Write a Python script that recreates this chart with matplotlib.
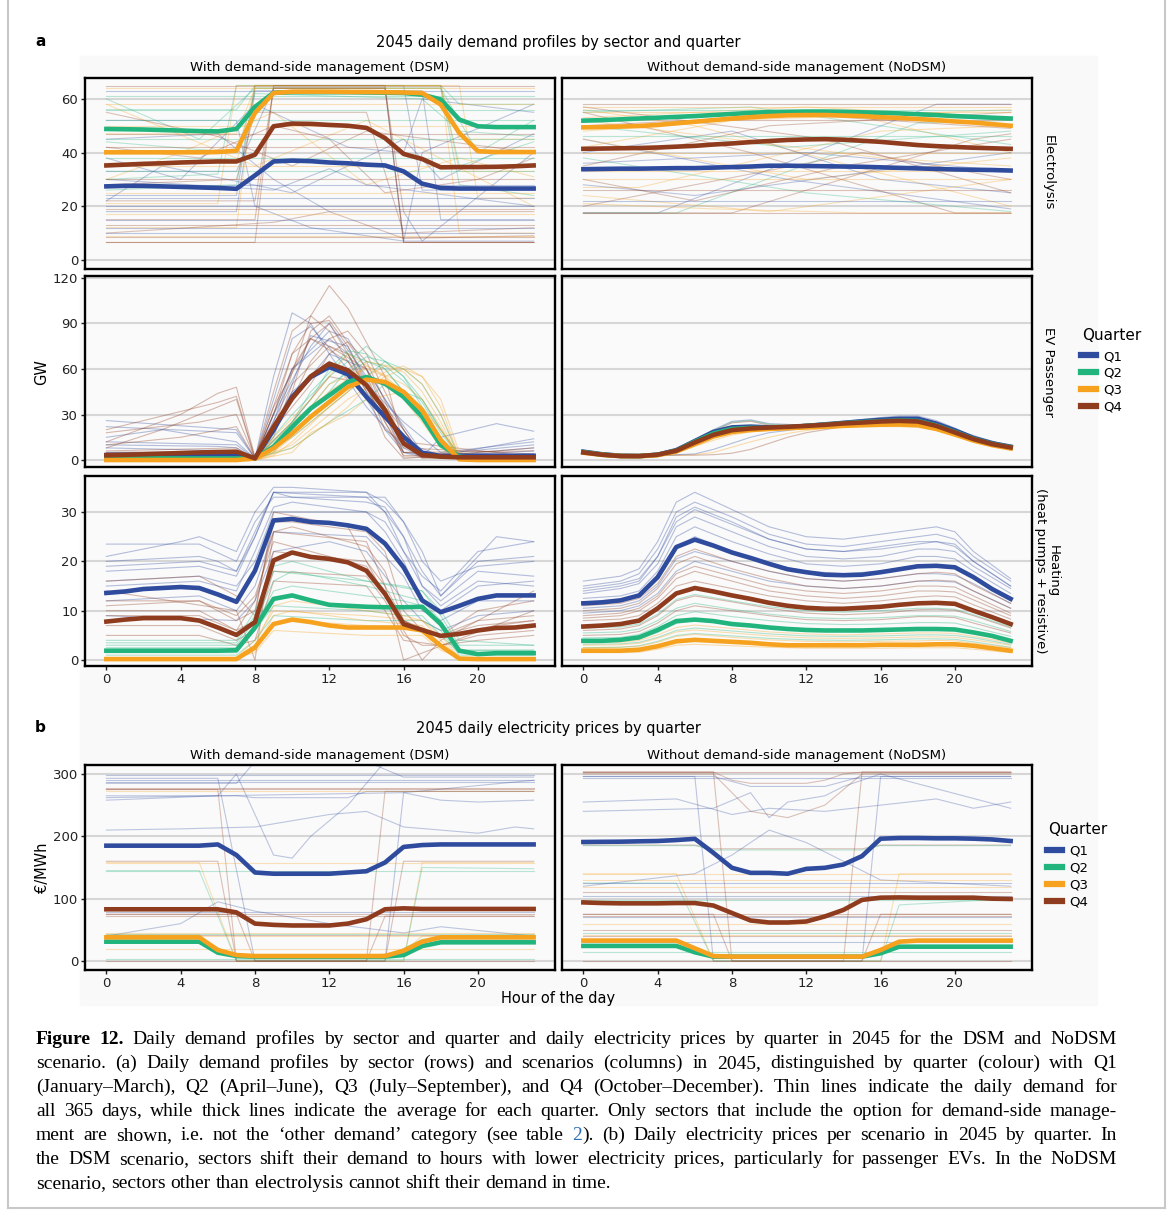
import matplotlib
matplotlib.use('Agg')
import matplotlib.pyplot as plt
from matplotlib.lines import Line2D

# ============ DATA ============
hours = list(range(24))
quarters = ['Q1', 'Q2', 'Q3', 'Q4']
q_colors = ['#2f4b9e', '#22b47d', '#f6a21e', '#8e3b1e']

# quarter averages (thick lines)
elec_dsm_mean = [
    [27.4, 27.6, 27.6, 27.4, 27.2, 27.0, 26.8, 26.5, 31.5, 36.7, 37.0, 36.8, 36.3, 36.0, 35.5, 35.2, 33.0, 28.4, 26.8, 26.6, 26.6, 26.6, 26.6, 26.6],
    [48.8, 48.7, 48.6, 48.4, 48.2, 48.0, 47.9, 48.8, 57.0, 62.3, 62.5, 62.5, 62.5, 62.5, 62.4, 62.3, 62.2, 61.6, 59.8, 52.3, 49.8, 49.5, 49.5, 49.5],
    [40.1, 40.1, 40.1, 40.1, 40.1, 40.1, 40.2, 40.7, 54.8, 62.2, 62.7, 62.7, 62.7, 62.6, 62.6, 62.5, 62.4, 62.2, 57.9, 47.3, 40.5, 40.2, 40.2, 40.2],
    [35.2, 35.5, 35.8, 36.0, 36.3, 36.5, 36.7, 36.7, 39.2, 49.8, 50.8, 50.7, 50.3, 50.0, 49.2, 45.4, 39.5, 37.6, 34.5, 34.6, 34.6, 34.7, 34.9, 35.2],
]
elec_nodsm_mean = [
    [33.8, 33.9, 34.0, 34.0, 34.1, 34.2, 34.2, 34.4, 34.6, 34.8, 35.1, 35.1, 35.0, 34.9, 34.8, 34.7, 34.5, 34.3, 34.1, 33.9, 33.7, 33.6, 33.5, 33.3],
    [51.9, 52.1, 52.4, 52.7, 53.0, 53.3, 53.6, 54.0, 54.4, 54.8, 55.1, 55.2, 55.3, 55.3, 55.2, 55.0, 54.8, 54.6, 54.3, 54.0, 53.6, 53.3, 53.0, 52.7],
    [49.4, 49.5, 49.7, 49.9, 50.3, 50.9, 51.5, 52.1, 52.7, 53.2, 53.6, 53.9, 54.0, 54.0, 53.8, 53.6, 53.2, 52.9, 52.5, 52.1, 51.6, 51.2, 50.6, 50.0],
    [41.4, 41.5, 41.6, 41.7, 41.9, 42.2, 42.5, 43.0, 43.4, 43.9, 44.3, 44.7, 44.9, 45.0, 44.8, 44.4, 44.0, 43.4, 42.8, 42.4, 42.1, 41.8, 41.6, 41.4],
]
ev_dsm_mean = [
    [3.3, 3.4, 3.5, 3.5, 3.6, 3.6, 3.7, 3.7, 1.1, 19.7, 41.6, 54.7, 61.3, 56.5, 41.6, 28.5, 15.3, 4.8, 2.6, 2.8, 2.8, 2.8, 2.8, 2.8],
    [1.1, 1.1, 1.1, 1.1, 1.1, 1.1, 1.1, 1.1, 1.1, 8.8, 21.9, 34.0, 42.7, 51.5, 54.7, 50.3, 41.6, 28.5, 9.9, 2.2, 1.1, 1.1, 1.1, 1.1],
    [0.0, 0.0, 0.0, 0.0, 0.0, 0.0, 0.0, 0.0, 1.0, 7.7, 17.5, 28.5, 38.3, 48.2, 53.0, 51.5, 44.9, 32.8, 13.1, 0.4, 0.0, 0.0, 0.0, 0.0],
    [3.1, 3.4, 3.8, 4.2, 4.6, 5.0, 5.3, 5.5, 1.1, 21.9, 40.5, 55.1, 63.5, 59.1, 49.3, 32.8, 10.9, 3.3, 2.2, 1.8, 1.8, 1.8, 1.8, 1.8],
]
ev_nodsm_mean = [
    [5.5, 3.8, 2.8, 2.6, 3.5, 6.5, 12.5, 18.5, 21.5, 22.0, 21.5, 21.5, 22.5, 23.5, 24.5, 25.5, 26.5, 27.2, 27.2, 24.0, 19.5, 14.5, 11.0, 8.8],
    [5.2, 3.6, 2.7, 2.6, 3.4, 6.2, 12.0, 17.5, 20.5, 21.2, 21.0, 21.5, 22.5, 23.3, 24.2, 25.0, 25.6, 26.0, 25.8, 22.8, 18.5, 14.0, 10.6, 8.5],
    [4.8, 3.4, 2.6, 2.5, 3.2, 5.6, 10.5, 15.5, 18.5, 19.8, 20.5, 21.0, 21.5, 22.0, 22.5, 23.0, 23.3, 23.4, 23.0, 20.5, 16.8, 12.8, 9.8, 7.6],
    [5.0, 3.5, 2.6, 2.6, 3.5, 6.1, 11.6, 16.6, 19.7, 20.8, 21.4, 21.9, 22.5, 23.2, 24.1, 24.7, 25.4, 25.8, 25.4, 22.5, 18.2, 13.8, 10.5, 8.3],
]
heat_dsm_mean = [
    [13.6, 13.9, 14.4, 14.6, 14.8, 14.6, 13.3, 11.8, 18.1, 28.3, 28.6, 28.0, 27.8, 27.3, 26.6, 23.6, 18.8, 12.1, 9.7, 11.0, 12.4, 13.1, 13.1, 13.1],
    [1.9, 1.9, 1.9, 1.9, 1.9, 1.9, 1.9, 2.0, 6.6, 12.4, 13.1, 12.1, 11.2, 11.0, 10.8, 10.7, 10.7, 10.8, 7.3, 1.9, 1.2, 1.4, 1.4, 1.4],
    [0.2, 0.2, 0.2, 0.2, 0.2, 0.2, 0.2, 0.2, 2.6, 7.3, 8.2, 7.7, 7.0, 6.6, 6.6, 6.6, 6.6, 6.0, 2.9, 0.3, 0.2, 0.2, 0.2, 0.2],
    [7.8, 8.2, 8.5, 8.5, 8.5, 8.0, 6.6, 5.1, 7.7, 20.2, 21.8, 20.9, 20.5, 19.8, 18.1, 13.4, 7.3, 6.1, 4.9, 5.3, 6.0, 6.5, 6.6, 7.0],
]
heat_nodsm_mean = [
    [11.5, 11.7, 12.1, 13.1, 16.8, 22.9, 24.4, 23.2, 21.8, 20.7, 19.5, 18.4, 17.8, 17.3, 17.2, 17.3, 17.8, 18.4, 19.0, 19.1, 18.8, 16.8, 14.4, 12.4],
    [3.9, 3.9, 4.1, 4.6, 6.1, 7.9, 8.2, 7.9, 7.3, 7.0, 6.6, 6.3, 6.1, 6.0, 6.0, 6.0, 6.1, 6.2, 6.3, 6.3, 6.2, 5.6, 4.9, 3.9],
    [1.9, 1.9, 1.9, 2.1, 2.8, 3.8, 4.1, 3.9, 3.7, 3.5, 3.2, 3.0, 3.0, 3.0, 3.0, 3.0, 3.1, 3.1, 3.1, 3.2, 3.2, 2.9, 2.4, 1.9],
    [6.8, 7.0, 7.3, 8.0, 10.5, 13.5, 14.6, 13.9, 13.1, 12.4, 11.6, 11.0, 10.6, 10.4, 10.4, 10.6, 10.8, 11.2, 11.5, 11.6, 11.4, 10.0, 8.7, 7.3],
]
price_dsm_mean = [
    [185, 185, 185, 185, 185, 185, 187, 170, 142, 140, 140, 140, 140, 142, 144, 158, 183, 186, 187, 187, 187, 187, 187, 187],
    [31, 31, 31, 31, 31, 31, 13.4, 8, 7, 7, 7, 7, 7, 7, 7, 7, 9.6, 24, 30, 30, 30, 30, 30, 30],
    [38, 38, 38, 38, 38, 38, 17.6, 9.6, 8, 8, 8, 8, 8, 8, 8, 8, 16.6, 31, 38, 38, 38, 38, 38, 38],
    [83, 83, 83, 83, 83, 83, 83, 78, 60, 58, 57, 57, 57, 60, 67, 83, 84.5, 83.5, 83.5, 83.5, 83.5, 83.5, 83.5, 83.5],
]
price_nodsm_mean = [
    [190.9, 191.2, 191.4, 192, 192.5, 194, 196, 173.5, 149.5, 141.4, 141.4, 140, 147.8, 149.5, 154.8, 168.3, 196.2, 197.3, 197.3, 196.8, 196.8, 196.2, 195, 192.5],
    [24.2, 24.2, 24.2, 24.2, 24.2, 24.2, 14, 7, 7, 7, 7, 7, 7, 7, 7, 7, 12.4, 23, 23, 23, 23, 23, 23, 23],
    [32.8, 32.8, 32.8, 32.8, 32.8, 32.8, 20.4, 8, 7, 7, 7, 7, 7, 7, 7, 7, 17.7, 31, 32.8, 32.8, 32.8, 32.8, 32.8, 32.8],
    [94, 93, 92.5, 92.5, 92.5, 93, 93, 89, 77, 65, 61.8, 61.8, 63.4, 71.5, 82, 98, 101.6, 102, 101.6, 101.6, 101.6, 101.6, 100, 99.5],
]

# a sample of individual days (thin lines): (quarter, hours, values)
elec_dsm_days = [
    (0, [0, 7, 8, 16, 17, 23], [24, 24, 65, 65, 26, 26]),
    (0, [0, 7, 9, 15, 16, 23], [33, 33, 64, 64, 7, 7]),
    (0, [0, 6, 9, 12, 16, 17, 23], [45, 47, 30, 18, 18, 7, 40]),
    (0, [0, 4, 8, 13, 16, 17, 23], [38, 30, 58, 42, 40, 60, 55]),
    (0, [0, 7, 8, 17, 18, 23], [18, 18, 63, 63, 15, 15]),
    (0, [0, 3, 10, 16, 18, 23], [22, 35, 25, 45, 30, 47]),
    (0, [0, 7, 8, 11, 16, 17, 23], [52, 52, 20, 12, 7, 40, 58]),
    (0, [0, 9, 12, 14, 23], [30, 26, 34, 28, 20]),
    (1, [0, 7, 8, 18, 19, 23], [56, 56, 65, 65, 58, 58]),
    (1, [0, 6, 7, 18, 19, 23], [30, 32, 65, 65, 35, 44]),
    (1, [0, 5, 8, 18, 20, 23], [60, 45, 64, 64, 40, 52]),
    (1, [0, 7, 8, 17, 19, 23], [44, 40, 62, 60, 48, 46]),
    (1, [0, 7, 8, 18, 19, 23], [26, 28, 64, 64, 28, 24]),
    (2, [0, 7, 8, 18, 19, 23], [12, 12, 65, 65, 10, 10]),
    (2, [0, 6, 7, 19, 20, 23], [21, 21, 65, 65, 23, 23]),
    (2, [0, 7, 8, 18, 19, 23], [47, 47, 64, 64, 45, 45]),
    (2, [0, 4, 9, 14, 19, 23], [30, 40, 55, 28, 38, 31]),
    (2, [0, 8, 14, 23], [58, 35, 52, 20]),
    (2, [0, 7, 8, 18, 19, 23], [36, 36, 65, 65, 33, 33]),
    (3, [0, 8, 9, 15, 16, 23], [6.5, 6.5, 65, 65, 6.5, 6.5]),
    (3, [0, 8, 9, 15, 16, 23], [15, 15, 64, 64, 18, 18]),
    (3, [0, 7, 8, 14, 16, 23], [28, 30, 55, 55, 10, 12]),
    (3, [0, 5, 9, 12, 15, 20, 23], [42, 38, 50, 45, 25, 30, 38]),
    (3, [0, 9, 12, 16, 23], [10, 14, 18, 8, 9]),
    (3, [0, 6, 10, 14, 23], [55, 46, 35, 48, 40]),
    (3, [0, 8, 9, 15, 16, 23], [22, 22, 64, 64, 6.5, 6.5]),
]
elec_dsm_flat = [(0, 63), (0, 20), (0, 12), (0, 23), (0, 15), (0, 28), (0, 10),
                 (1, 61), (1, 52), (1, 45), (1, 33), (1, 38), (1, 56),
                 (2, 64), (2, 58), (2, 17), (2, 9), (2, 25), (2, 35), (2, 50),
                 (3, 65), (3, 6.5), (3, 13), (3, 30), (3, 42), (3, 19), (3, 47), (3, 8.5)]

elec_nodsm_days = [
    (0, [0, 4, 19, 23], [17.5, 17.5, 58, 58]),
    (1, [0, 5, 18, 23], [17.5, 17.5, 51, 52]),
    (3, [0, 8, 21, 23], [17.5, 17.5, 45, 47]),
    (2, [0, 6, 23], [56, 50, 20]),
    (0, [0, 11, 23], [45, 30, 19]),
    (3, [0, 9, 20, 23], [55, 40, 17.5, 17.5]),
    (1, [0, 12, 23], [38, 25, 18]),
    (2, [0, 3, 16, 23], [27, 27, 48, 50]),
    (2, [0, 14, 23], [48, 55, 40]),
    (3, [0, 6, 14, 23], [30, 22, 35, 45]),
    (0, [0, 8, 16, 23], [40, 48, 30, 25]),
    (2, [0, 10, 23], [24, 18, 30]),
    (2, [0, 12, 23], [53, 57, 53]),
    (3, [0, 12, 23], [50, 54, 49]),
    (0, [0, 12, 23], [36, 40, 33]),
    (2, [0, 7, 15, 23], [21, 19, 17.5, 17.5]),
    (3, [0, 10, 23], [35, 50, 55]),
    (2, [0, 12, 23], [45, 30, 38]),
    (1, [0, 9, 23], [55, 57, 43]),
    (3, [0, 15, 23], [20, 40, 30]),
    (2, [0, 8, 23], [42, 52, 56]),
    (3, [0, 13, 23], [57, 45, 25]),
    (0, [0, 6, 23], [28, 24, 40]),
    (2, [0, 16, 23], [52, 38, 35]),
    (1, [0, 11, 23], [50, 42, 48]),
]
elec_nodsm_flat = [(3, 58), (3, 17.5), (2, 57), (1, 56), (1, 46), (2, 33), (3, 26), (2, 40),
                   (2, 55), (3, 52), (0, 22), (2, 30)]

ev_dsm_days = [
    (0, [0, 7, 8, 9, 10, 11, 12, 14, 16, 17, 18, 21, 23], [22, 18, 1, 55, 97, 90, 70, 35, 8, 2, 15, 24, 19]),
    (0, [0, 6, 7, 8, 10, 12, 13, 15, 17, 18, 23], [10, 9, 8, 1, 60, 85, 80, 40, 5, 3, 8]),
    (0, [0, 7, 8, 9, 11, 12, 14, 15, 16, 18, 23], [5, 5, 1, 30, 75, 90, 55, 30, 5, 2, 4]),
    (0, [0, 3, 7, 8, 10, 12, 14, 16, 17, 23], [15, 20, 12, 1, 40, 70, 60, 20, 3, 10]),
    (0, [0, 7, 8, 10, 11, 13, 15, 17, 18, 23], [3, 3, 2, 50, 82, 75, 30, 4, 2, 3]),
    (0, [0, 7, 8, 9, 10, 12, 14, 16, 18, 23], [26, 20, 1, 20, 45, 65, 50, 25, 5, 12]),
    (0, [0, 7, 8, 9, 10, 11, 13, 15, 16, 17, 23], [8, 6, 1, 40, 80, 88, 60, 20, 5, 2, 6]),
    (0, [0, 7, 8, 9, 10, 12, 13, 14, 16, 18, 23], [12, 10, 1, 25, 60, 80, 70, 45, 12, 3, 14]),
    (3, [0, 4, 6, 7, 8, 9, 11, 12, 13, 15, 16, 17, 23], [12, 30, 44, 48, 2, 20, 95, 115, 100, 55, 10, 1, 2]),
    (3, [0, 3, 6, 7, 8, 10, 11, 12, 14, 15, 16, 23], [8, 20, 35, 40, 1, 45, 85, 95, 60, 30, 2, 2]),
    (3, [0, 5, 7, 8, 10, 12, 14, 15, 17, 23], [18, 25, 30, 1, 70, 90, 50, 20, 2, 2]),
    (3, [0, 7, 8, 9, 11, 13, 15, 16, 23], [4, 5, 1, 35, 80, 70, 25, 3, 3]),
    (3, [0, 7, 8, 10, 12, 14, 16, 17, 23], [2, 2, 1, 25, 55, 50, 20, 2, 2]),
    (3, [0, 4, 7, 8, 10, 11, 13, 15, 16, 23], [10, 15, 22, 1, 60, 80, 65, 35, 5, 6]),
    (3, [0, 7, 8, 9, 10, 11, 12, 14, 15, 16, 23], [6, 8, 1, 45, 85, 95, 85, 45, 15, 1, 8]),
    (3, [0, 7, 8, 9, 10, 11, 12, 13, 14, 15, 16, 23], [5, 6, 1, 30, 70, 90, 92, 75, 50, 25, 5, 3]),
    (3, [0, 7, 8, 10, 11, 12, 13, 14, 15, 16, 17, 23], [3, 4, 1, 40, 65, 80, 85, 70, 45, 20, 2, 2]),
    (3, [0, 6, 7, 8, 9, 10, 12, 14, 15, 16, 23], [20, 38, 42, 1, 15, 50, 75, 60, 35, 8, 4]),
    (3, [0, 7, 8, 9, 11, 12, 13, 14, 16, 23], [2, 3, 1, 20, 50, 70, 78, 65, 12, 2]),
    (1, [0, 7, 8, 9, 11, 12, 13, 14, 15, 16, 17, 18, 19, 23], [2, 2, 1, 10, 40, 60, 72, 70, 60, 45, 30, 10, 2, 1]),
    (1, [0, 7, 8, 10, 12, 13, 15, 16, 17, 18, 19, 23], [1, 1, 1, 15, 35, 45, 65, 60, 50, 30, 2, 1]),
    (1, [0, 7, 8, 10, 12, 14, 16, 17, 18, 19, 23], [3, 3, 1, 30, 55, 75, 55, 35, 15, 2, 2]),
    (1, [0, 8, 10, 12, 14, 15, 17, 18, 19, 23], [1, 1, 8, 25, 40, 50, 40, 20, 3, 1]),
    (1, [0, 8, 9, 10, 12, 13, 14, 15, 16, 17, 18, 19, 23], [1, 1, 5, 20, 45, 60, 68, 65, 55, 40, 20, 3, 1]),
    (1, [0, 8, 9, 11, 12, 14, 15, 16, 17, 18, 19, 23], [2, 1, 12, 35, 50, 65, 62, 52, 38, 18, 2, 2]),
    (1, [0, 8, 10, 11, 13, 15, 16, 17, 18, 19, 23], [1, 1, 25, 45, 70, 60, 45, 30, 12, 1, 1]),
    (2, [0, 8, 9, 11, 13, 14, 16, 17, 18, 19, 23], [0, 0, 5, 25, 45, 65, 60, 50, 30, 1, 0]),
    (2, [0, 8, 10, 12, 14, 15, 17, 18, 19, 23], [0, 0, 20, 50, 60, 55, 35, 20, 2, 0]),
    (2, [0, 8, 10, 12, 13, 15, 16, 17, 18, 19, 23], [0, 0, 10, 30, 40, 55, 60, 55, 40, 5, 0]),
    (2, [0, 8, 9, 11, 13, 15, 17, 18, 19, 23], [0, 0, 15, 40, 70, 55, 25, 8, 0, 0]),
    (2, [0, 8, 10, 11, 13, 14, 16, 18, 19, 23], [0, 0, 5, 18, 30, 40, 45, 20, 1, 0]),
    (2, [0, 8, 10, 12, 13, 14, 15, 16, 17, 18, 19, 23], [0, 0, 8, 25, 35, 48, 58, 62, 55, 35, 2, 0]),
    (2, [0, 8, 9, 10, 12, 14, 15, 16, 17, 18, 19, 23], [0, 0, 3, 12, 35, 55, 62, 58, 45, 25, 1, 0]),
    (2, [0, 8, 10, 12, 14, 16, 17, 18, 19, 23], [0, 0, 25, 45, 62, 50, 40, 22, 1, 0]),
]

ev_nodsm_days = [
    (0, [0, 2, 4, 5, 6, 7, 8, 9, 10, 12, 14, 16, 17, 18, 19, 20, 21, 23], [6, 3, 3.6, 7, 13.5, 20, 25.5, 26.5, 24, 23, 25.5, 28, 29, 29, 26, 21, 15.5, 9.5]),
    (1, [0, 2, 4, 5, 6, 7, 8, 9, 10, 12, 14, 16, 17, 18, 19, 20, 21, 23], [5.5, 2.8, 3.5, 6.8, 13, 19.5, 25, 26, 23.5, 22.5, 24.5, 26.5, 27.5, 27.5, 24.5, 20, 15, 9]),
    (3, [0, 2, 4, 5, 6, 7, 8, 9, 10, 12, 14, 16, 17, 18, 19, 20, 21, 23], [5.5, 2.8, 3.5, 6.5, 12.5, 19, 24.5, 25.5, 23, 22.5, 24.5, 26.5, 27, 27, 24, 19.5, 14.5, 9]),
    (2, [0, 2, 4, 5, 6, 7, 8, 9, 10, 12, 14, 16, 17, 18, 19, 20, 21, 23], [4.5, 2.5, 3, 5, 9, 13, 16.5, 18.5, 19.5, 20.5, 21.5, 22, 22, 21.5, 19.5, 16, 12, 7]),
    (3, [0, 2, 4, 6, 7, 8, 9, 10, 11, 12, 14, 16, 18, 20, 23], [5, 2.6, 3, 3.2, 3.5, 4.5, 7, 11, 15, 18, 22, 24, 25, 18, 8]),
    (2, [0, 2, 4, 6, 7, 8, 9, 10, 11, 12, 14, 16, 18, 20, 23], [5, 2.6, 3, 3.5, 5, 8.5, 12, 15, 17.5, 19.5, 22, 23, 23, 17, 7.5]),
    (0, [0, 2, 4, 6, 7, 8, 9, 10, 12, 14, 16, 18, 20, 23], [5, 2.6, 3, 4, 7, 11, 15, 18, 21, 23.5, 26, 27, 20, 8.5]),
    (1, [0, 2, 4, 5, 6, 7, 8, 9, 10, 12, 14, 16, 17, 18, 19, 20, 21, 23], [5, 2.6, 3.3, 5.8, 11, 16, 19, 20.2, 20.8, 22, 23.5, 24.6, 25, 24.8, 22, 17.8, 13.5, 8.2]),
]

heat_dsm_days = [
    (0, [0, 5, 6, 7, 8, 9, 13, 14, 15, 16, 17, 18, 20, 23], [20, 21, 20, 18, 25, 34, 34, 34, 30, 25, 15, 12, 18, 17]),
    (0, [0, 4, 5, 7, 8, 9, 10, 14, 15, 16, 17, 18, 21, 23], [21, 24, 25, 22, 30, 35, 35, 34, 32, 28, 22, 13, 25, 24]),
    (0, [0, 5, 7, 8, 9, 14, 15, 16, 17, 18, 20, 23], [16, 17, 15, 20, 30, 30, 26, 20, 12, 10, 15, 16]),
    (0, [0, 5, 7, 8, 9, 14, 16, 17, 18, 20, 23], [12, 13, 10, 15, 26, 25, 17, 10, 8, 12, 12]),
    (0, [0, 5, 7, 8, 9, 10, 14, 15, 16, 17, 18, 20, 23], [18, 19, 17, 25, 34, 33, 32, 31, 25, 18, 13, 20, 21]),
    (0, [0, 7, 8, 9, 12, 14, 16, 17, 18, 20, 23], [9, 8, 12, 22, 24, 22, 12, 8, 6, 9, 10]),
    (0, [0, 5, 7, 8, 9, 14, 15, 16, 17, 18, 20, 23], [23.5, 23.5, 20, 28, 33, 33, 30, 22, 17, 14, 22, 24]),
    (0, [0, 5, 7, 8, 9, 10, 14, 15, 16, 17, 18, 20, 23], [15, 16, 14, 22, 31, 32, 30, 28, 22, 15, 11, 16, 15]),
    (0, [0, 5, 7, 8, 9, 14, 15, 16, 17, 18, 20, 23], [19, 20, 18, 26, 34, 33, 33, 28, 20, 16, 19, 20]),
    (3, [0, 5, 7, 8, 9, 10, 14, 15, 16, 17, 18, 20, 23], [12, 12, 8, 10, 28, 28, 26, 22, 10, 6, 5, 10, 12]),
    (3, [0, 5, 7, 8, 9, 14, 15, 16, 17, 18, 20, 23], [9, 9, 6, 8, 22, 20, 15, 8, 6, 5, 7, 8]),
    (3, [0, 5, 7, 8, 9, 14, 15, 16, 18, 20, 23], [5, 5, 3, 4, 16, 15, 10, 4, 3, 4, 5]),
    (3, [0, 7, 8, 9, 14, 15, 16, 23], [14, 10, 0, 26, 24, 15, 0, 10]),
    (3, [0, 5, 7, 8, 9, 11, 14, 16, 17, 18, 21, 23], [11, 12, 9, 13, 24, 22, 19, 8, 6, 5, 7, 8]),
    (3, [0, 5, 7, 8, 9, 13, 14, 16, 17, 18, 23], [16, 17, 13, 9, 30, 27, 20, 6, 0, 4, 14]),
    (3, [0, 5, 7, 8, 9, 14, 15, 16, 17, 18, 20, 23], [7, 7, 4, 6, 18, 17, 12, 5, 3, 3, 5, 6]),
    (3, [0, 5, 7, 8, 9, 10, 14, 15, 16, 18, 20, 23], [10, 10, 6, 12, 26, 27, 23, 18, 8, 5, 8, 9]),
    (1, [0, 7, 8, 9, 10, 14, 16, 17, 18, 19, 23], [3, 3, 8, 16, 18, 15, 13, 12, 8, 2, 2]),
    (1, [0, 7, 8, 9, 14, 16, 17, 18, 19, 23], [1.5, 1.5, 6, 11, 10, 9, 9, 5, 1.5, 1.5]),
    (1, [0, 7, 8, 9, 10, 14, 16, 17, 18, 19, 23], [4, 4, 10, 19, 20, 16, 15, 14, 10, 4, 3]),
    (1, [0, 7, 8, 9, 14, 17, 18, 19, 23], [1, 1, 4, 9, 8, 8, 6, 1, 1]),
    (1, [0, 7, 8, 9, 10, 14, 16, 17, 18, 19, 23], [2.5, 2.5, 7, 14, 15, 13, 12, 11, 7, 2, 2]),
    (1, [0, 7, 8, 9, 14, 17, 18, 19, 23], [3.5, 3.5, 9, 18, 16, 14, 9, 3, 3]),
    (2, [0, 7, 8, 9, 10, 14, 17, 18, 19, 23], [0, 0, 2, 9, 10, 8, 7, 3, 0, 0]),
    (2, [0, 7, 8, 9, 14, 17, 18, 19, 23], [0.5, 0.5, 1.5, 6, 5, 5, 2, 0.5, 0.5]),
    (2, [0, 7, 8, 9, 10, 16, 17, 18, 19, 23], [0.2, 0.2, 3, 11, 12, 9, 8, 5, 0.5, 0.2]),
    (2, [0, 7, 8, 9, 10, 16, 17, 18, 19, 23], [0.3, 0.3, 2, 7, 8, 6.5, 6, 3, 0.3, 0.3]),
    (2, [0, 7, 8, 9, 14, 17, 18, 19, 23], [0.5, 0.5, 4, 10, 9, 8, 4, 0.5, 0.5]),
]

heat_nodsm_hours = [0, 2, 3, 4, 5, 6, 8, 10, 12, 14, 16, 18, 19, 20, 21, 23]
heat_nodsm_days = [
    (0, [16, 17, 18.5, 24, 32, 34, 30.5, 27, 25, 24.5, 25.5, 26.5, 27, 26, 22, 16.5]),
    (0, [15, 16, 17.5, 22.5, 30, 32, 29, 25.5, 23.5, 23, 24, 25, 25.5, 24.5, 21, 16]),
    (0, [14, 15, 16, 21, 29, 31, 28, 24.5, 22.5, 22, 23, 24, 24, 23.5, 20, 15]),
    (0, [14.5, 15.5, 16.5, 21, 28, 30.5, 27.5, 24.5, 22.5, 22, 22.5, 23.5, 24, 23, 20, 15]),
    (0, [13.5, 14.5, 15.5, 19.5, 27, 29, 26, 23, 21, 20.5, 21, 22.5, 22.5, 22, 19, 14.5]),
    (0, [12.5, 13, 14, 18, 25, 27, 24, 21.5, 19.5, 19, 19.5, 21, 21, 20.5, 18, 13.5]),
    (0, [11.5, 12, 13, 16.5, 23, 25, 22, 19.5, 18, 17.5, 18, 19.3, 19.3, 19, 16.7, 12.5]),
    (0, [10.5, 11, 12, 15, 20.5, 22, 20, 18, 16.5, 16, 16.5, 17.5, 17.5, 17.2, 15.5, 11.5]),
    (0, [9.5, 10, 11, 13.5, 18, 20, 18, 16, 15, 14.5, 15, 16, 16, 15.8, 14, 10.5]),
    (3, [11, 11.5, 12.5, 15.5, 21, 22.5, 20, 18, 16.5, 16, 16.5, 17.5, 17.8, 17.5, 15.2, 11.5]),
    (3, [10, 10.5, 11.5, 14.5, 19.5, 21, 18.5, 16.5, 15, 14.5, 15, 16, 16.2, 16, 14, 10.5]),
    (3, [9, 9.5, 10.5, 13, 17.5, 19, 17, 15, 14, 13.5, 14, 15, 15, 14.8, 13, 9.5]),
    (3, [8.5, 9, 10, 12.5, 16.5, 18, 16, 14, 13, 12.5, 13, 14, 14, 13.8, 12.2, 9]),
    (3, [8, 8.3, 9, 11.5, 15, 16, 14.5, 13, 12, 11.5, 12, 12.8, 13, 12.8, 11.2, 8.3]),
    (3, [7, 7.3, 8, 10, 13.5, 14.5, 13, 11.5, 10.8, 10.5, 10.8, 11.5, 11.6, 11.4, 10, 7.2]),
    (3, [6, 6.3, 7, 9, 12, 13, 11.8, 10.5, 9.5, 9.2, 9.5, 10.2, 10.3, 10.1, 9, 6.5]),
    (3, [5, 5.2, 5.8, 7.5, 10, 11, 10, 9, 8.2, 8, 8.2, 8.8, 8.8, 8.6, 7.5, 5.5]),
    (1, [6.5, 6.7, 7.3, 9.3, 12.3, 13.3, 12, 10.8, 10, 9.7, 10, 10.5, 10.5, 10.3, 9.2, 6.7]),
    (1, [5.5, 5.7, 6.3, 8, 10.5, 11.5, 10.3, 9.3, 8.6, 8.4, 8.6, 9, 9, 8.9, 8, 5.8]),
    (1, [4.5, 4.6, 5.2, 6.8, 9, 9.8, 8.8, 8, 7.4, 7.2, 7.3, 7.6, 7.6, 7.5, 6.6, 4.8]),
    (1, [3.8, 3.9, 4.3, 5.6, 7.4, 8, 7.2, 6.5, 6, 5.9, 6, 6.2, 6.2, 6.1, 5.5, 3.9]),
    (1, [3.2, 3.3, 3.6, 4.6, 6, 6.5, 5.9, 5.3, 4.9, 4.8, 4.9, 5.1, 5.1, 5, 4.5, 3.2]),
    (1, [2.5, 2.6, 2.9, 3.8, 5, 5.4, 4.9, 4.4, 4.1, 4, 4.1, 4.3, 4.3, 4.2, 3.7, 2.6]),
    (2, [3.5, 3.6, 4, 5.1, 6.6, 7.1, 6.4, 5.7, 5.3, 5.1, 5.3, 5.5, 5.5, 5.4, 4.8, 3.5]),
    (2, [3, 3.1, 3.4, 4.4, 5.7, 6.1, 5.5, 4.9, 4.5, 4.4, 4.5, 4.7, 4.7, 4.6, 4.1, 3]),
    (2, [2.5, 2.6, 2.8, 3.6, 4.8, 5.2, 4.6, 4.1, 3.8, 3.7, 3.8, 3.9, 4, 3.9, 3.4, 2.5]),
    (2, [2, 2, 2.2, 2.9, 3.8, 4.1, 3.7, 3.3, 3.1, 3, 3.1, 3.2, 3.2, 3.1, 2.8, 2]),
    (2, [1.5, 1.5, 1.6, 2.2, 3, 3.2, 2.9, 2.6, 2.4, 2.4, 2.4, 2.5, 2.5, 2.5, 2.2, 1.5]),
]

price_dsm_days = [
    (3, [0, 6, 7, 14, 15, 23], [275, 275, 0, 0, 272, 272]),
    (0, [0, 6, 8, 15, 16, 23], [293, 293, 0, 0, 270, 290]),
    (0, [0, 7, 8, 14, 16, 23], [285, 285, 320, 320, 295, 295]),
    (2, [0, 5, 7, 16, 17, 23], [158, 158, 0, 0, 158, 158]),
    (1, [0, 5, 7, 16, 17, 23], [145, 145, 0, 0, 150, 148]),
    (3, [0, 6, 7, 15, 16, 23], [160, 160, 0, 0, 160, 160]),
    (0, [0, 4, 8, 10, 12, 14, 16, 20, 22, 23], [210, 212, 215, 225, 235, 240, 215, 205, 215, 212]),
    (0, [0, 6, 7, 9, 10, 11, 13, 15, 23], [258, 265, 300, 170, 165, 200, 250, 320, 320]),
    (0, [0, 16, 18, 20, 23], [262, 270, 258, 255, 258]),
    (0, [0, 7, 8, 13, 14, 23], [265, 265, 262, 262, 272, 272]),
    (2, [0, 5, 6, 7, 14, 16, 17, 23], [42, 42, 15, 8, 8, 15, 40, 42]),
    (1, [0, 5, 7, 15, 17, 23], [38, 38, 5, 5, 35, 35]),
    (3, [0, 7, 8, 14, 15, 23], [75, 75, 0, 0, 72, 72]),
    (0, [0, 4, 6, 8, 12, 16, 18, 23], [40, 60, 95, 80, 60, 45, 55, 40]),
]
price_dsm_flat = [(0, 290), (0, 287), (0, 298), (3, 276), (3, 278), (2, 272), (2, 158), (1, 145),
                  (3, 75), (3, 72), (0, 78), (3, 42), (2, 45), (1, 44), (2, 40), (3, 0), (1, 3), (2, 20)]

price_nodsm_days = [
    (3, [0, 7, 8, 9, 12, 13, 14, 15, 23], [303, 303, 290, 285, 285, 290, 300, 303, 303]),
    (0, [0, 7, 9, 13, 15, 23], [296, 296, 280, 280, 296, 296]),
    (3, [0, 6, 7, 15, 16, 23], [186, 186, 180, 180, 186, 186]),
    (1, [0, 6, 7, 15, 16, 23], [185, 185, 178, 178, 185, 185]),
    (0, [0, 6, 7, 15, 16, 23], [296, 296, 0, 0, 296, 296]),
    (3, [0, 7, 8, 14, 15, 23], [303, 303, 0, 0, 303, 303]),
    (2, [0, 5, 7, 16, 17, 23], [140, 140, 0, 0, 140, 140]),
    (1, [0, 5, 7, 16, 17, 23], [125, 125, 0, 0, 90, 100]),
    (0, [0, 7, 9, 10, 11, 13, 14, 16, 23], [240, 245, 270, 230, 255, 265, 280, 300, 245]),
    (0, [0, 5, 8, 10, 13, 16, 19, 21, 23], [255, 260, 235, 245, 240, 250, 260, 245, 255]),
    (3, [0, 7, 9, 11, 13, 15, 23], [300, 300, 240, 230, 250, 300, 300]),
    (3, [0, 7, 8, 15, 16, 23], [75, 75, 0, 0, 75, 75]),
    (0, [0, 6, 8, 10, 12, 14, 16, 23], [120, 140, 170, 210, 190, 160, 130, 120]),
]
price_nodsm_flat = [(3, 303), (0, 293), (2, 140), (2, 130), (0, 125), (2, 118), (3, 110), (0, 105),
                    (1, 98), (3, 75), (3, 72), (0, 70), (2, 60), (3, 50), (1, 45), (2, 42), (3, 40),
                    (0, 30), (3, 0), (1, 15)]

# ============ LAYOUT HELPERS ============
W, H = 1171, 1211
fig = plt.figure(figsize=(W / 100, H / 100), dpi=100)
plt.rcParams['font.family'] = 'DejaVu Sans'


def fx(x):
    return x / W


def fy(y):
    return 1 - y / H


def box(x0, y0, x1, y1):
    return [fx(x0), fy(y1), (x1 - x0) / W, (y1 - y0) / H]


# light panel background and page frame
fig.patches.append(plt.Rectangle((fx(80), fy(1005)), (1097 - 80) / W, (1005 - 56) / H,
                                 transform=fig.transFigure, color='#f9f9f9', zorder=-10))
fig.add_artist(Line2D([fx(8), fx(8)], [fy(1208), 1], color='#c8c8c8', lw=1.5))
fig.add_artist(Line2D([fx(1165), fx(1165)], [fy(1208), 1], color='#c8c8c8', lw=1.5))
fig.add_artist(Line2D([fx(8), fx(1165)], [fy(1208), fy(1208)], color='#c8c8c8', lw=1.5))


def draw_panel(ax, means, days=(), flat=(), ylim=None, yticks=None, show_y=True, show_x=False, alpha=0.3):
    ax.set_facecolor('#fafafa')
    for q, hrs, vals in days:
        ax.plot(hrs, vals, color=q_colors[q], lw=0.8, alpha=alpha)
    for q, lvl in flat:
        ax.plot([0, 23], [lvl, lvl], color=q_colors[q], lw=0.8, alpha=alpha)
    for q in range(4):
        ax.plot(hours, means[q], color=q_colors[q], lw=3.3, solid_joinstyle='round')
    ax.set_xlim(-1.15, 24.15)
    ax.set_ylim(ylim)
    ax.set_yticks(yticks)
    ax.set_xticks([0, 4, 8, 12, 16, 20])
    ax.grid(axis='y', color='#d6d6d6', lw=1.5)
    ax.grid(axis='x', visible=False)
    ax.set_axisbelow(True)
    for s in ax.spines.values():
        s.set_linewidth(1.7)
        s.set_color('black')
    ax.tick_params(labelsize=9.5, length=3, width=1, colors='#222222', pad=2)
    if not show_y:
        ax.tick_params(axis='y', left=False, labelleft=False)
    if not show_x:
        ax.tick_params(axis='x', bottom=False, labelbottom=False)


cols = [(85, 555), (562, 1032)]
rows_a = [(78, 269), (276, 467), (476, 666)]
panels_a = [
    (elec_dsm_mean, elec_dsm_days, elec_dsm_flat, elec_nodsm_mean, elec_nodsm_days, elec_nodsm_flat,
     (-3.4, 67.8), [0, 20, 40, 60], 0.3),
    (ev_dsm_mean, ev_dsm_days, [], ev_nodsm_mean, ev_nodsm_days, [],
     (-4.6, 121.3), [0, 30, 60, 90, 120], 0.35),
    (heat_dsm_mean, heat_dsm_days, [], heat_nodsm_mean,
     [(q, heat_nodsm_hours, v) for q, v in heat_nodsm_days], [],
     (-1.2, 37.3), [0, 10, 20, 30], 0.35),
]
for r, (y0, y1) in enumerate(rows_a):
    m_l, d_l, f_l, m_r, d_r, f_r, yl, yt, a = panels_a[r]
    axl = fig.add_axes(box(cols[0][0], y0, cols[0][1], y1))
    draw_panel(axl, m_l, d_l, f_l, yl, yt, True, r == 2, a)
    axr = fig.add_axes(box(cols[1][0], y0, cols[1][1], y1))
    draw_panel(axr, m_r, d_r, f_r, yl, yt, False, r == 2, a)

ax_pl = fig.add_axes(box(85, 765, 555, 970))
draw_panel(ax_pl, price_dsm_mean, price_dsm_days, price_dsm_flat, (-14.4, 314.4), [0, 100, 200, 300], True, True)
ax_pr = fig.add_axes(box(562, 765, 1032, 970))
draw_panel(ax_pr, price_nodsm_mean, price_nodsm_days, price_nodsm_flat, (-14.4, 314.4), [0, 100, 200, 300], False, True)

# ============ TEXTS ============
fig.text(fx(35), fy(41), 'a', fontsize=11, fontweight='bold', va='center')
fig.text(fx(35), fy(727), 'b', fontsize=11, fontweight='bold', va='center')
fig.text(fx(558), fy(42), '2045 daily demand profiles by sector and quarter', fontsize=10.5, ha='center', va='center')
fig.text(fx(558), fy(729), '2045 daily electricity prices by quarter', fontsize=10.5, ha='center', va='center')
for yy in (68, 755):
    fig.text(fx(320), fy(yy), 'With demand-side management (DSM)', fontsize=9.5, ha='center', va='center')
    fig.text(fx(797), fy(yy), 'Without demand-side management (NoDSM)', fontsize=9.5, ha='center', va='center')
fig.text(fx(1048), fy(173), 'Electrolysis', fontsize=9.5, rotation=-90, ha='center', va='center')
fig.text(fx(1048), fy(372), 'EV Passenger', fontsize=9.5, rotation=-90, ha='center', va='center')
fig.text(fx(1047), fy(571), 'Heating\n(heat pumps + resistive)', fontsize=9.5, rotation=-90,
         ha='center', va='center', multialignment='center', linespacing=1.0)
fig.text(fx(42), fy(372), 'GW', fontsize=10.5, rotation=90, ha='center', va='center')
fig.text(fx(42), fy(868), '€/MWh', fontsize=10.5, rotation=90, ha='center', va='center')
fig.text(fx(558), fy(998), 'Hour of the day', fontsize=10.5, ha='center', va='center')

handles = [Line2D([], [], color=c, lw=4.5) for c in q_colors]
for (tx, ty, lx, ly) in [(1082, 336, 1081, 350), (1048, 830, 1047, 845)]:
    fig.text(fx(tx), fy(ty), 'Quarter', fontsize=11, ha='left', va='center')
    fig.legend(handles, quarters, loc='upper left', bbox_to_anchor=(fx(lx), fy(ly)), frameon=False,
               fontsize=9.5, handlelength=1.1, handletextpad=0.6, labelspacing=0.3,
               borderaxespad=0, borderpad=0)

# ============ CAPTION (justified) ============
caption = [
    "Figure 12. Daily demand profiles by sector and quarter and daily electricity prices by quarter in 2045 for the DSM and NoDSM",
    "scenario. (a) Daily demand profiles by sector (rows) and scenarios (columns) in 2045, distinguished by quarter (colour) with Q1",
    "(January–March), Q2 (April–June), Q3 (July–September), and Q4 (October–December). Thin lines indicate the daily demand for",
    "all 365 days, while thick lines indicate the average for each quarter. Only sectors that include the option for demand-side manage-",
    "ment are shown, i.e. not the ‘other demand’ category (see table {2}). (b) Daily electricity prices per scenario in 2045 by quarter. In",
    "the DSM scenario, sectors shift their demand to hours with lower electricity prices, particularly for passenger EVs. In the NoDSM",
    "scenario, sectors other than electrolysis cannot shift their demand in time.",
]
cap_left, cap_right = 36, 1117
cap_font = 'Liberation Serif'
renderer = fig.canvas.get_renderer()


def word_segments(word, idx, line_no):
    weight = 'bold' if (line_no == 0 and idx < 2) else 'normal'
    if '{' in word:
        a, rest = word.split('{')
        b, c = rest.split('}')
        return [(s, weight, col) for s, col in ((a, 'black'), (b, '#2a6fb5'), (c, 'black')) if s]
    return [(word, weight, 'black')]


def seg_width(text, weight, size):
    t = fig.text(0, 0, text, fontsize=size, family=cap_font, fontweight=weight)
    w = t.get_window_extent(renderer).width
    t.remove()
    return w


size = 14.0
natural = []
for i, line in enumerate(caption):
    words = line.split(' ')
    natural.append(sum(seg_width(s, wt, size) for k, w in enumerate(words) for s, wt, c in word_segments(w, k, i))
                   + 3.0 * (len(words) - 1))
avail = cap_right - cap_left
if max(natural) > avail:
    size = size * avail / max(natural)

for i, line in enumerate(caption):
    words = line.split(' ')
    segs = [word_segments(w, k, i) for k, w in enumerate(words)]
    widths = [sum(seg_width(s, wt, size) for s, wt, c in sg) for sg in segs]
    if i < len(caption) - 1:
        gap = (avail - sum(widths)) / (len(words) - 1)
    else:
        gap = size * 100 / 72 * 0.25
    x = cap_left
    ybase = 1044 + 24 * i
    for sg in segs:
        for s, wt, c in sg:
            fig.text(fx(x), fy(ybase), s, fontsize=size, family=cap_font, fontweight=wt, color=c, va='baseline')
            x += seg_width(s, wt, size)
        x += gap

fig.savefig('out.png', dpi=100)
